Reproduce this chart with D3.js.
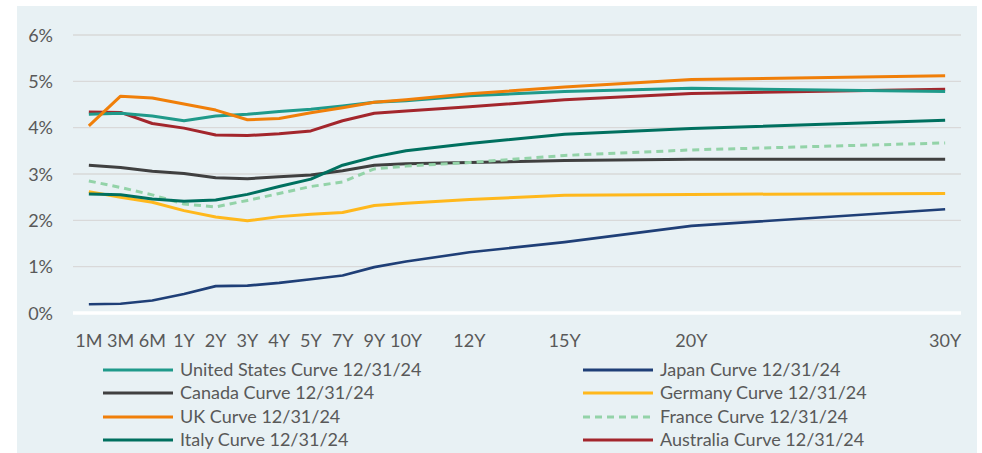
<!DOCTYPE html>
<html>
<head>
<meta charset="utf-8">
<script src="https://cdn.jsdelivr.net/npm/d3@7"></script>
<style>
  html, body { margin: 0; padding: 0; background: #ffffff; }
  svg { display: block; }
  text { font-family: Lato, "Open Sans", sans-serif; fill: #595959; }
</style>
</head>
<body>
<svg id="chart" width="982" height="453"></svg>
<script>
// Category axis (blank slots keep the original chart's spacing)
const categories = ["1M","3M","6M","1Y","2Y","3Y","4Y","5Y","7Y","9Y","10Y","","12Y","","","15Y","","","","20Y","","","","","","","","30Y"];
const tenors = ["1M","3M","6M","1Y","2Y","3Y","4Y","5Y","7Y","9Y","10Y","12Y","15Y","20Y","30Y"];
const yTicks = [0, 1, 2, 3, 4, 5, 6];

const us        = [4.29, 4.31, 4.25, 4.15, 4.25, 4.29, 4.35, 4.40, 4.47, 4.55, 4.58, 4.69, 4.78, 4.85, 4.78];
const japan     = [0.19, 0.20, 0.27, 0.41, 0.58, 0.59, 0.65, 0.73, 0.81, 0.99, 1.11, 1.31, 1.53, 1.88, 2.24];
const canada    = [3.19, 3.14, 3.06, 3.01, 2.92, 2.90, 2.94, 2.98, 3.07, 3.19, 3.22, 3.25, 3.29, 3.32, 3.32];
const germany   = [2.62, 2.50, 2.39, 2.21, 2.07, 1.99, 2.08, 2.13, 2.17, 2.32, 2.37, 2.45, 2.54, 2.56, 2.58];
const uk        = [4.04, 4.68, 4.64, 4.51, 4.38, 4.17, 4.20, 4.32, 4.43, 4.55, 4.60, 4.73, 4.88, 5.04, 5.12];
const france    = [2.85, 2.71, 2.55, 2.35, 2.29, 2.43, 2.58, 2.73, 2.83, 3.11, 3.17, 3.25, 3.40, 3.52, 3.67];
const italy     = [2.57, 2.55, 2.46, 2.41, 2.44, 2.56, 2.73, 2.89, 3.19, 3.37, 3.50, 3.66, 3.86, 3.98, 4.16];
const australia = [4.34, 4.33, 4.09, 3.99, 3.84, 3.83, 3.87, 3.93, 4.15, 4.31, 4.36, 4.45, 4.60, 4.74, 4.83];

const seriesNames = ["United States Curve 12/31/24","Japan Curve 12/31/24","Canada Curve 12/31/24","Germany Curve 12/31/24","UK Curve 12/31/24","France Curve 12/31/24","Italy Curve 12/31/24","Australia Curve 12/31/24"];
const seriesValues = [us, japan, canada, germany, uk, france, italy, australia];
const seriesColors = ["#1f9a8a","#1f3f77","#404040","#ffb81c","#f07f09","#93d3a8","#00705f","#a3262c"];
const seriesDash = [null, null, null, null, null, "7,5", null, null];

const svg = d3.select("#chart");

// background panel
svg.append("rect").attr("x", 17).attr("y", 6).attr("width", 960).attr("height", 447).attr("fill", "#e8f1f4");

const x = d3.scaleBand().domain(d3.range(categories.length)).range([73, 961]);
const y = d3.scaleLinear().domain([0, 6]).range([313, 35]);
const cx = i => x(i) + x.bandwidth() / 2;
const tenorIndex = t => categories.indexOf(t);

// gridlines
svg.append("g").selectAll("line").data(yTicks.filter(d => d > 0)).join("line")
  .attr("x1", 73).attr("x2", 961)
  .attr("y1", d => y(d)).attr("y2", d => y(d))
  .attr("stroke", "#d9d9d9").attr("stroke-width", 1.3);

// y labels
svg.append("g").selectAll("text").data(yTicks).join("text")
  .attr("x", 53).attr("y", d => y(d) + 6.5)
  .attr("text-anchor", "end").attr("font-size", 18)
  .text(d => d + "%");

// zero axis line
svg.append("line").attr("x1", 73).attr("x2", 961).attr("y1", y(0)).attr("y2", y(0))
  .attr("stroke", "#ffffff").attr("stroke-width", 3.5);

// x labels
svg.append("g").selectAll("text").data(categories.map((c, i) => ({c, i})).filter(d => d.c !== "")).join("text")
  .attr("x", d => cx(d.i)).attr("y", 347)
  .attr("text-anchor", "middle").attr("font-size", 18)
  .text(d => d.c);

// lines
const line = d3.line().x(d => cx(tenorIndex(d.t))).y(d => y(d.v));
const order = [2, 5, 3, 1, 6, 7, 0, 4];
order.forEach(s => {
  const pts = tenors.map((t, k) => ({t, v: seriesValues[s][k]}));
  svg.append("path").datum(pts)
    .attr("d", line)
    .attr("fill", "none")
    .attr("stroke", seriesColors[s])
    .attr("stroke-width", s === 1 ? 2.6 : 3)
    .attr("stroke-linejoin", "round")
    .attr("stroke-dasharray", seriesDash[s]);
});

// legend: two columns, left = US, Canada, UK, Italy; right = Japan, Germany, France, Australia
const legendCols = [[0, 2, 4, 6], [1, 3, 5, 7]];
const colX = [103, 583];
const rowY = [370, 393, 417, 440];
legendCols.forEach((col, ci) => {
  col.forEach((s, ri) => {
    const g = svg.append("g");
    g.append("line").attr("x1", colX[ci]).attr("x2", colX[ci] + 70)
      .attr("y1", rowY[ri]).attr("y2", rowY[ri])
      .attr("stroke", seriesColors[s]).attr("stroke-width", 3)
      .attr("stroke-dasharray", seriesDash[s]);
    g.append("text").attr("x", colX[ci] + 77).attr("y", rowY[ri] + 6)
      .attr("font-size", 18).text(seriesNames[s]);
  });
});
</script>
</body>
</html>
